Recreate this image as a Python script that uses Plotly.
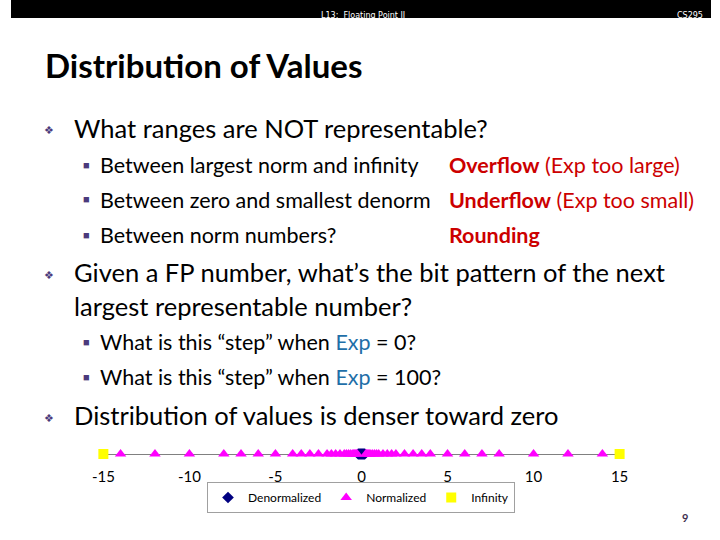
import plotly.graph_objects as go

# 6-bit float: values on the number line
denorm_vals = [-0.1875, -0.125, -0.0625, 0, 0.0625, 0.125, 0.1875]
norm_pos = [0.25, 0.3125, 0.375, 0.4375, 0.5, 0.625, 0.75, 0.875,
            1, 1.25, 1.5, 1.75, 2, 2.5, 3, 3.5, 4, 5, 6, 7, 8, 10, 12, 14]
norm_vals = [-v for v in norm_pos[::-1]] + norm_pos
inf_vals = [-15, 15]
tick_vals = [-15, -10, -5, 0, 5, 10, 15]
tick_text = ["-15", "-10", "-5", "0", "5", "10", "15"]

W, H = 720, 540
FONT = "Lato"
RED = "#cc0000"
BLUE = "#1f6fa8"
PURPLE = "#4b3a7c"


def px(x):
    return x / W


def py(y):
    return 1 - y / H


fig = go.Figure()
fig.add_trace(go.Scatter(x=denorm_vals, y=[0] * len(denorm_vals), mode="markers", name="Denormalized",
                         marker=dict(symbol="diamond", color="#000080", size=9), cliponaxis=False))
fig.add_trace(go.Scatter(x=norm_vals, y=[0] * len(norm_vals), mode="markers", name="Normalized",
                         marker=dict(symbol="triangle-up", color="#ff00ff", size=10), cliponaxis=False))
fig.add_trace(go.Scatter(x=inf_vals, y=[0] * len(inf_vals), mode="markers", name="Infinity",
                         marker=dict(symbol="square", color="#ffff00", size=10), cliponaxis=False))

fig.update_layout(
    autosize=True,
    margin=dict(l=0, r=0, t=0, b=0),
    paper_bgcolor="white", plot_bgcolor="white",
    font=dict(family=FONT, color="black"),
    showlegend=True,
    legend=dict(orientation="h", x=0.5, xanchor="center", y=py(482), yanchor="top",
                bordercolor="#a0a0a0", borderwidth=1, font=dict(size=12),
                traceorder="normal", itemwidth=30),
    xaxis=dict(domain=[px(95), px(626)], range=[-15, 15], tickvals=tick_vals, ticktext=tick_text,
               showgrid=False, zeroline=False, showline=False, ticks="",
               tickfont=dict(size=15, family=FONT)),
    yaxis=dict(domain=[py(466), py(442)], range=[-1, 1], showgrid=False, showticklabels=False,
               zeroline=True, zerolinecolor="#808080", zerolinewidth=1),
)

# header bar
fig.add_shape(type="rect", xref="paper", yref="paper", x0=0, x1=1, y0=py(18), y1=1,
              fillcolor="black", line_width=0)
fig.add_annotation(text="L13:  Floating Point II", x=px(362), y=py(9), xref="paper", yref="paper",
                   showarrow=False, font=dict(size=8, color="white", family="DejaVu Sans"))
fig.add_annotation(text="CS295", x=px(714), y=py(9), xref="paper", yref="paper", xanchor="right",
                   showarrow=False, font=dict(size=8, color="white", family="DejaVu Sans"))

# title
fig.add_annotation(text="<b>Distribution of Values</b>", x=px(33), y=py(65), xref="paper", yref="paper",
                   xanchor="left", yanchor="middle", showarrow=False, font=dict(size=33))


def text(t, x, y, size):
    fig.add_annotation(text=t, x=px(x), y=py(y), xref="paper", yref="paper", xanchor="left",
                       yanchor="middle", showarrow=False, font=dict(size=size))


def bullet(y):
    text("<span style='color:%s'>❖</span>" % PURPLE, 32, y + 2, 11)


def sub(y):
    text("<span style='color:%s'>■</span>" % PURPLE, 72, y - 1, 11)


bullet(128)
text("What ranges are NOT representable?", 63, 128, 25.5)
sub(165)
text("Between largest norm and infinity", 89, 165, 21.5)
sub(200)
text("Between zero and smallest denorm", 89, 200, 21.5)
sub(235)
text("Between norm numbers?", 89, 235, 21.5)
text("<span style='color:%s'><b>Overflow</b> (Exp too large)</span>" % RED, 448, 165, 21.5)
text("<span style='color:%s'><b>Underflow</b> (Exp too small)</span>" % RED, 448, 200, 21.5)
text("<span style='color:%s'><b>Rounding</b></span>" % RED, 448, 235, 21.5)

bullet(272)
text("Given a FP number, what’s the bit pattern of the next", 63, 272, 25.5)
text("largest representable number?", 63, 306, 25.5)
sub(342)
text("What is this “step” when <span style='color:%s'>Exp</span> = 0?" % BLUE, 89, 342, 21.5)
sub(377)
text("What is this “step” when <span style='color:%s'>Exp</span> = 100?" % BLUE, 89, 377, 21.5)

bullet(415)
text("Distribution of values is denser toward zero", 63, 415, 25.5)

fig.add_annotation(text="<b>9</b>", x=px(698), y=py(526), xref="paper", yref="paper",
                   showarrow=False, font=dict(size=11, color="#3f3151"))

fig.write_html("out.html", config={"displayModeBar": False},
               default_width="100vw", default_height="100vh",
               post_script="document.body.style.margin='0';document.body.style.overflow='hidden';"
                           "window.dispatchEvent(new Event('resize'));")
